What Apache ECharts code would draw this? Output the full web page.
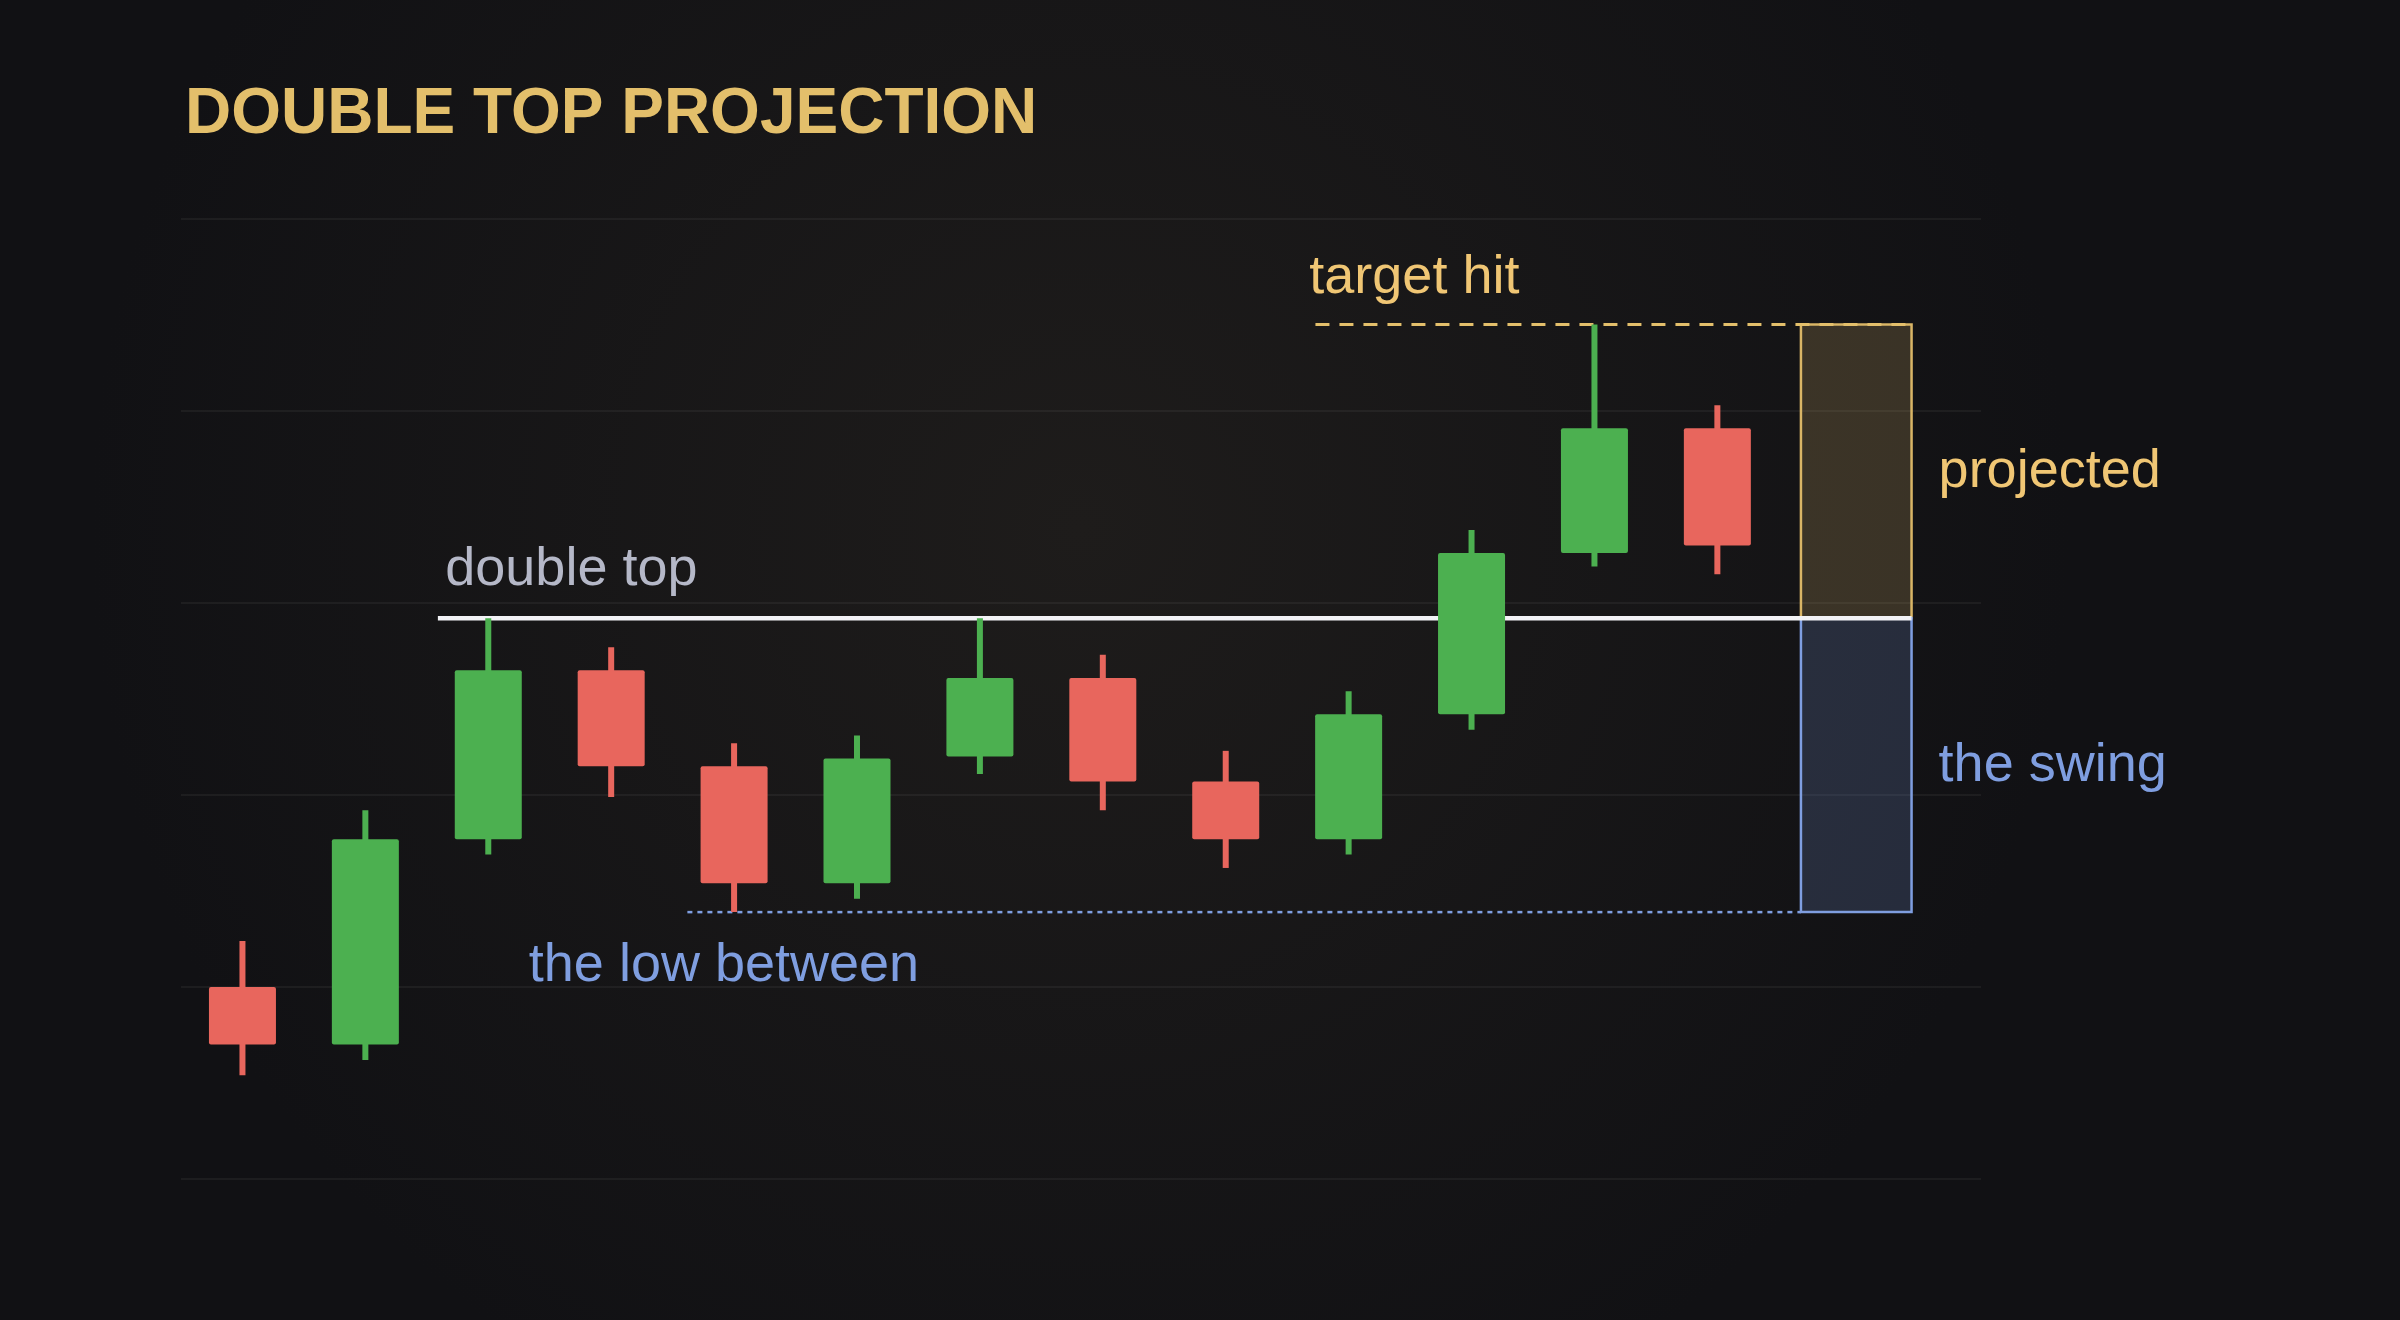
<!DOCTYPE html>
<html><head><meta charset="utf-8">
<script src="https://cdn.jsdelivr.net/npm/echarts@6/dist/echarts.min.js"></script>
<style>html,body{margin:0;padding:0;background:#131315}#c{width:2400px;height:1320px}</style>
</head><body><div id="c"></div>
<script>
// candles: [open, close, low, high]
const candles = [
  [60, 57, 55.4, 62.4],
  [57, 67.7, 56.2, 69.2],
  [67.7, 76.5, 66.9, 79.2],
  [76.5, 71.5, 69.9, 77.7],
  [71.5, 65.4, 63.9, 72.7],
  [65.4, 71.9, 64.6, 73.1],
  [72, 76.1, 71.1, 79.2],
  [76.1, 70.7, 69.2, 77.3],
  [70.7, 67.7, 66.2, 72.3],
  [67.7, 74.2, 66.9, 75.4],
  [74.2, 82.6, 73.4, 83.8],
  [82.6, 89.1, 81.9, 94.5],
  [89.1, 83, 81.5, 90.3]
];
const doubleTop = 79.2, lowBetween = 63.9, target = 94.5;
const topLineX = [2.09, 14.08];
const lowLineX = [4.12, 13.18];
const targetLineX = [9.23, 14.08];
const boxX = [13.18, 14.08];
// labels: [x, y, text, colorKey]
const labels = [
  [9.18, 96.9, 'target hit', 'y'],
  [2.15, 81.7, 'double top', 'w'],
  [2.83, 61.1, 'the low between', 'b'],
  [14.3, 86.8, 'projected', 'y'],
  [14.3, 71.5, 'the swing', 'b']
];
const col = {y:'#f0c674', w:'#b5b8c8', b:'#7f9ee0'};
const chart = echarts.init(document.getElementById('c'));
chart.setOption({
  backgroundColor: {type:'radial', x:0.45, y:0.4, r:0.75, colorStops:[{offset:0,color:'#1e1c1b'},{offset:1,color:'#111114'}]},
  title:{text:'DOUBLE TOP PROJECTION', left:180, top:78, textStyle:{color:'#e3bf6b', fontSize:64, fontWeight:'bold', fontFamily:'Liberation Sans'}},
  grid:{left:181, right:419, top:219, bottom:141},
  xAxis:{type:'value', min:0, max:14.645, show:false},
  yAxis:{type:'value', min:50, max:100, interval:10, axisLabel:{show:false}, axisLine:{show:false}, axisTick:{show:false},
    splitLine:{lineStyle:{color:'rgba(255,255,255,0.07)', width:1.5}}},
  series:[
    {type:'custom', data:[0], z:1, renderItem:(p,api)=>{
      const a=api.coord([boxX[0],target]), b=api.coord([boxX[1],doubleTop]), c=api.coord([boxX[1],lowBetween]);
      return {type:'group', children:[
        {type:'rect', shape:{x:a[0],y:a[1],width:b[0]-a[0],height:b[1]-a[1]}, style:{fill:'rgba(240,198,116,0.18)',stroke:'#d9b566',lineWidth:2.5}},
        {type:'rect', shape:{x:a[0],y:b[1],width:b[0]-a[0],height:c[1]-b[1]}, style:{fill:'rgba(120,150,220,0.2)',stroke:'#7f9ee0',lineWidth:2.5}}
      ]};
    }},
    {type:'custom', data:[0], z:2, renderItem:(p,api)=>{
      const ln=(xs,y,st)=>{const a=api.coord([xs[0],y]),b=api.coord([xs[1],y]);return {type:'line',shape:{x1:a[0],y1:a[1],x2:b[0],y2:b[1]},style:st};};
      return {type:'group', children:[
        ln(lowLineX, lowBetween, {stroke:'#7f9ee0', lineWidth:2.5, lineDash:[5,5]}),
        ln(targetLineX, target, {stroke:'#e3bf6b', lineWidth:3, lineDash:[14,10]}),
        ln(topLineX, doubleTop, {stroke:'#f2f2f6', lineWidth:4.5})
      ]};
    }},
    {type:'custom', z:3, data:candles.map((c,i)=>[i+0.5].concat(c)), renderItem:(p,api)=>{
      const x=api.value(0), o=api.value(1), cl=api.value(2), lo=api.value(3), hi=api.value(4);
      const color = cl>=o ? '#4cb050' : '#e8665d';
      const pt=v=>api.coord([x,v]);
      const bw=67;
      const top=pt(Math.max(o,cl)), bot=pt(Math.min(o,cl)), h=pt(hi), l=pt(lo);
      return {type:'group', children:[
        {type:'rect', shape:{x:h[0]-3,y:h[1],width:6,height:l[1]-h[1]}, style:{fill:color}},
        {type:'rect', shape:{x:top[0]-bw/2,y:top[1],width:bw,height:bot[1]-top[1],r:2}, style:{fill:color}}
      ]};
    }},
    {type:'custom', z:4, data:labels, renderItem:(p,api)=>{
      const d=labels[p.dataIndex]; const pos=api.coord([d[0],d[1]]);
      return {type:'text', x:pos[0], y:pos[1], style:{text:d[2], fill:col[d[3]], fontSize:54, fontFamily:'Liberation Sans', verticalAlign:'middle', align:'left'}};
    }}
  ]
});
</script></body></html>
